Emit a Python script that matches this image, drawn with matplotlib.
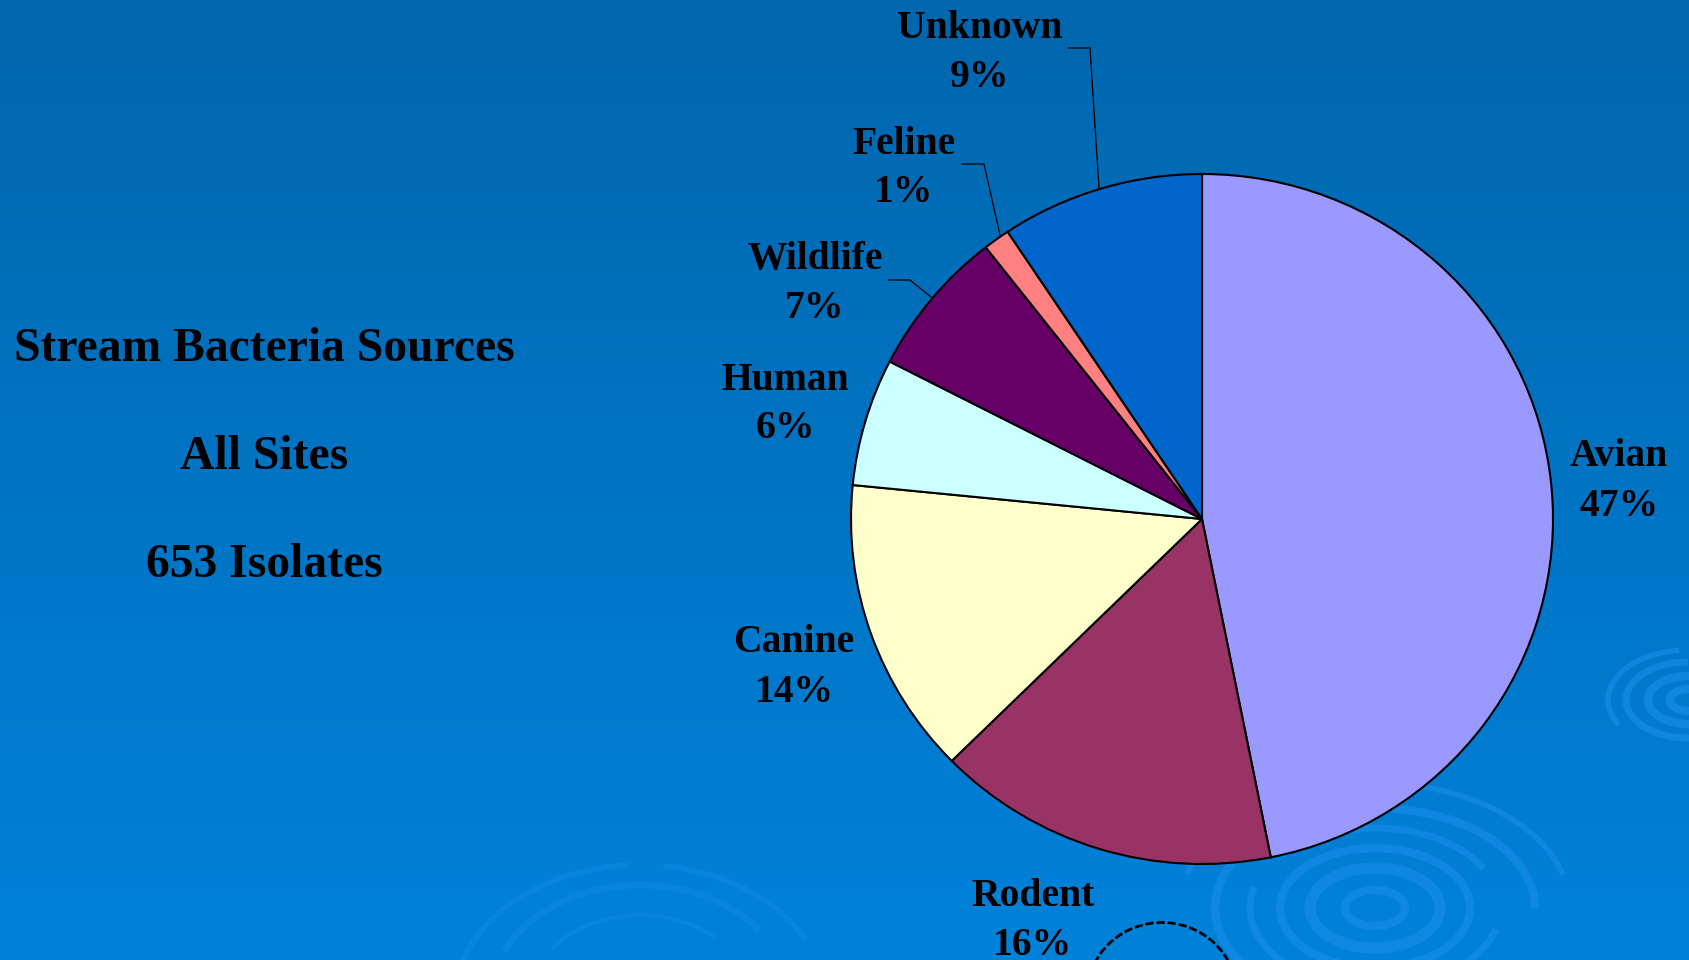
import numpy as np
import matplotlib
matplotlib.use('Agg')
import matplotlib.pyplot as plt
from matplotlib.patches import Arc
from matplotlib.transforms import Affine2D

# isolate counts (653 isolates in all)
sources = ['Avian', 'Rodent', 'Canine', 'Human', 'Wildlife', 'Feline', 'Unknown']
counts = [306, 103, 91, 39, 45, 8, 61]
colors = ['#9999FF', '#993366', '#FFFFCC', '#CCFFFF', '#660066', '#FF8080', '#0066CC']

title_lines = ['Stream Bacteria Sources', 'All Sites', '653 Isolates']

W, H = 1690, 960

# label spots in pixels (x, y of the name line), y measured from the top
label_pos = [(1619, 457), (1033, 897), (794, 643), (785, 380),
             (815, 260), (904, 144), (980, 28)]
# leader lines, pixel coords
leaders = {
    'Wildlife': [(889, 280), (910, 280), (931, 297)],
    'Feline': [(962, 164), (984, 164), (1000, 235)],
    'Unknown': [(1069, 48), (1090, 48), (1099, 188)],
}

fig = plt.figure(figsize=(16.9, 9.6), dpi=100)
ax = fig.add_axes([0, 0, 1, 1])
ax.set_xlim(0, W)
ax.set_ylim(0, H)
ax.axis('off')

# background gradient, darker blue at the top
top = np.array([0x00, 0x66, 0xAD]) / 255
bot = np.array([0x00, 0x82, 0xDA]) / 255
t = np.linspace(0, 1, 256)[:, None]
grad = (top * (1 - t) + bot * t)[:, None, :]
ax.imshow(grad, extent=[0, W, 0, H], aspect='auto', zorder=0)

# faint water ripples
rip = '#1E90EE'
def ripple(cx, cy, rings, alpha):
    for a, b, lw, t1, t2 in rings:
        ax.add_patch(Arc((cx, H - cy), 2 * a, 2 * b, theta1=t1, theta2=t2,
                         color=rip, lw=lw, alpha=alpha, zorder=1))

ripple(1375, 908, [(30, 18, 6, 0, 360), (65, 40, 8, 0, 360), (95, 60, 6, 0, 360),
                   (125, 80, 5, 20, 150), (125, 80, 5, 170, 350),
                   (160, 100, 6, 0, 80), (160, 100, 6, 100, 330),
                   (195, 125, 4, 10, 170)], 0.5)
ripple(1688, 700, [(18, 11, 6, 0, 360), (40, 24, 6, 0, 360), (62, 38, 5, 90, 300),
                   (80, 50, 4, 100, 200)], 0.55)
ripple(640, 1000, [(185, 135, 4, 20, 80), (185, 135, 4, 95, 170),
                   (150, 115, 5, 30, 160), (110, 85, 3, 40, 150)], 0.3)
ax.add_patch(Arc((1162, H - 995), 150, 145, theta1=10, theta2=170,
                 color='black', lw=2, ls=(0, (3, 1)), zorder=2))

cx, cy = 1202, H - 519
wedges, _ = ax.pie(counts, colors=colors, startangle=90, counterclock=False,
                   center=(cx, cy), radius=351, frame=True,
                   wedgeprops=dict(edgecolor='black', linewidth=1.5))
squash = Affine2D().translate(-cx, -cy).scale(1.0, 345 / 351).translate(cx, cy)
for w in wedges:
    w.set_zorder(3)
    w.set_transform(squash + ax.transData)
ax.set_xlim(0, W)
ax.set_ylim(0, H)
ax.axis('off')

total = sum(counts)
font = dict(family='Liberation Serif', weight='bold', color='black', zorder=4)
for name, c, (x, y) in zip(sources, counts, label_pos):
    pct = str(round(100 * c / total)) + '%'
    ax.text(x, H - y, name, ha='center', va='center', fontsize=28.5, **font)
    ax.text(x, H - y - 49, pct, ha='center', va='center', fontsize=28.5, **font)

for name, pts in leaders.items():
    xs = [p[0] for p in pts]
    ys = [H - p[1] for p in pts]
    ax.plot(xs, ys, color='black', lw=0.9, zorder=4)

for i, line in enumerate(title_lines):
    ax.text(264, H - (349 + 108 * i), line, ha='center', va='center',
            fontsize=34.3, **font)

fig.savefig('out.png', dpi=100)
